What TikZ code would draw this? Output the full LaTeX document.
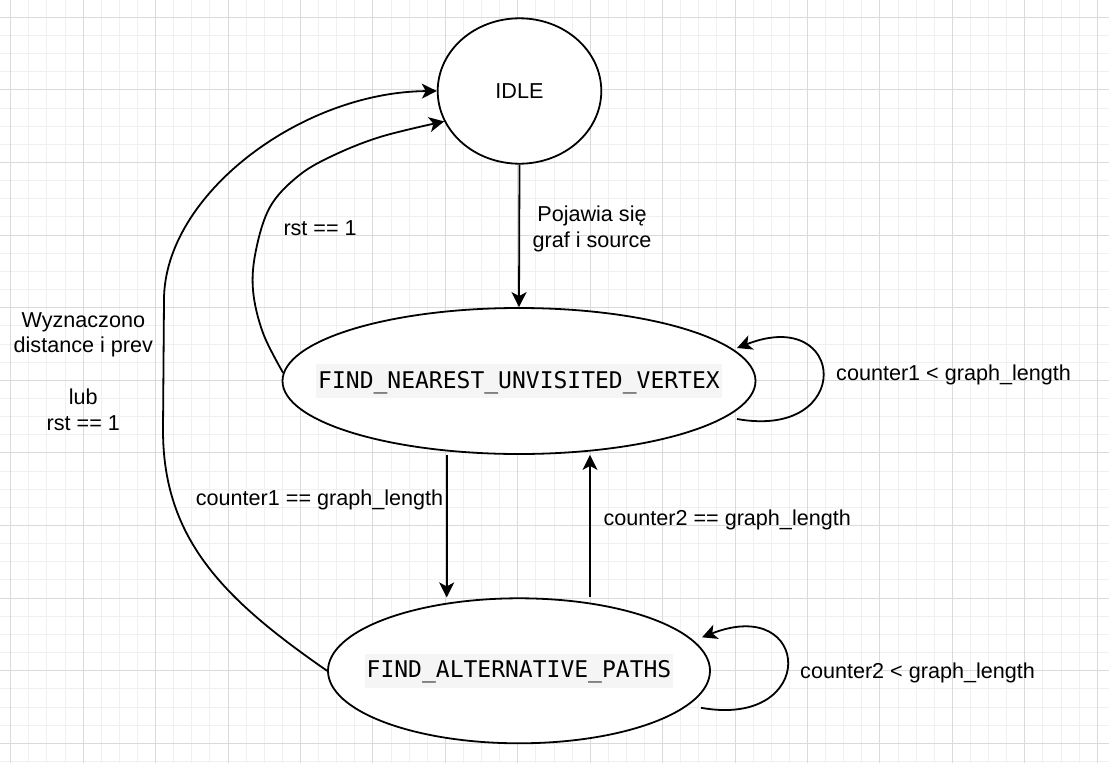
\documentclass[tikz,border=0pt]{standalone}
\usepackage{fontspec}
\setmainfont{Liberation Sans}
\newfontfamily\codefont{DejaVu Sans Mono}
\usetikzlibrary{arrows.meta,shapes.geometric,calc}

\definecolor{gridmajor}{RGB}{218,218,218}
\definecolor{gridminor}{RGB}{240,240,240}
\definecolor{codebg}{RGB}{245,245,245}

% state name set in mono on a grey strip, zero width so the ellipse keeps its size
\newcommand{\statename}[1]{\makebox[0pt]{\setlength{\fboxsep}{0pt}%
  \colorbox{codebg}{\hspace{2pt}\rule[-10pt]{0pt}{34pt}\fontsize{23}{28}\codefont #1\hspace{2pt}}}}

\begin{document}
\begin{tikzpicture}[x=1pt,y=-1pt,>={Stealth[length=15pt,width=15pt,inset=4pt]},
  font=\fontsize{21.6}{25.9}\selectfont,
  state/.style={ellipse,draw,line width=1.8pt,fill=white,inner sep=0pt},
  edge/.style={->,line width=1.8pt},
  lbl/.style={inner sep=0pt}]
  \useasboundingbox (0,0) rectangle (1109,763);
  % background grid
  \fill[white] (0,0) rectangle (1109,763);
  \foreach \k in {-1,...,60}
    \draw[gridminor,line width=1pt] ({10.7+18.11*\k},0) -- ++(0,763);
  \foreach \k in {-1,...,41}
    \draw[gridminor,line width=1pt] (0,{17.3+18.15*\k}) -- ++(1109,0);
  \foreach \k in {0,...,15}
    \draw[gridmajor,line width=1pt] ({10.7+72.44*\k},0) -- ++(0,763);
  \foreach \k in {0,...,10}
    \draw[gridmajor,line width=1pt] (0,{17.3+72.6*\k}) -- ++(1109,0);

  % states
  \node[state,minimum width=163.6pt,minimum height=145.4pt] (idle) at (519.5,91) {IDLE};
  \node[state,minimum width=473pt,minimum height=146pt] (fnuv) at (519,381)
    {\statename{FIND\_NEAREST\_UNVISITED\_VERTEX}};
  \node[state,minimum width=382pt,minimum height=145pt] (fap) at (519,670.8)
    {\statename{FIND\_ALTERNATIVE\_PATHS}};

  % transitions
  \draw[edge] (idle.south) -- (fnuv.north);
  \draw[edge] ([xshift=-72.3pt]fnuv.south) -- ([xshift=-72.3pt]fap.north);
  \draw[edge] ([xshift=71pt]fap.north) -- ([xshift=71pt]fnuv.south);
  \draw[edge] ($(fnuv.center)+(218,38)$) .. controls +(118,21) and +(110,-43) .. ($(fnuv.center)+(218,-33)$);
  \draw[edge] ($(fap.center)+(182,37)$) .. controls +(118,21) and +(110,-43) .. ($(fap.center)+(183,-33.5)$);
  \draw[edge] plot[smooth,tension=0.6] coordinates {(fnuv.178) (263,333) (253,290) (256,250)
    (270,207) (297,177) (330,157) (380,137) (idle.202)};
  \draw[edge] (fap.west) .. controls (225,600) and (163,540) .. (163,430)
    -- (164,300) .. controls (164,195) and (301,92) .. (idle.west);

  % labels
  \node[lbl,align=center] (l-start) at (592,229.3) {Pojawia się\\graf i source};
  \node[lbl,anchor=base west] (l-rst) at (283.3,235) {rst == 1};
  \node[lbl,align=center] (l-done) at (83.3,371.5)
    {Wyznaczono\\distance i prev\\[25.9pt]lub\\rst == 1};
  \node[lbl,anchor=base west] (l-loop1) at (836,380) {counter1 < graph\_length};
  \node[lbl,anchor=base west] (l-down) at (195.7,505.7) {counter1 == graph\_length};
  \node[lbl,anchor=base west] (l-up) at (603.3,525) {counter2 == graph\_length};
  \node[lbl,anchor=base west] (l-loop2) at (800,678.3) {counter2 < graph\_length};
\end{tikzpicture}
\end{document}
